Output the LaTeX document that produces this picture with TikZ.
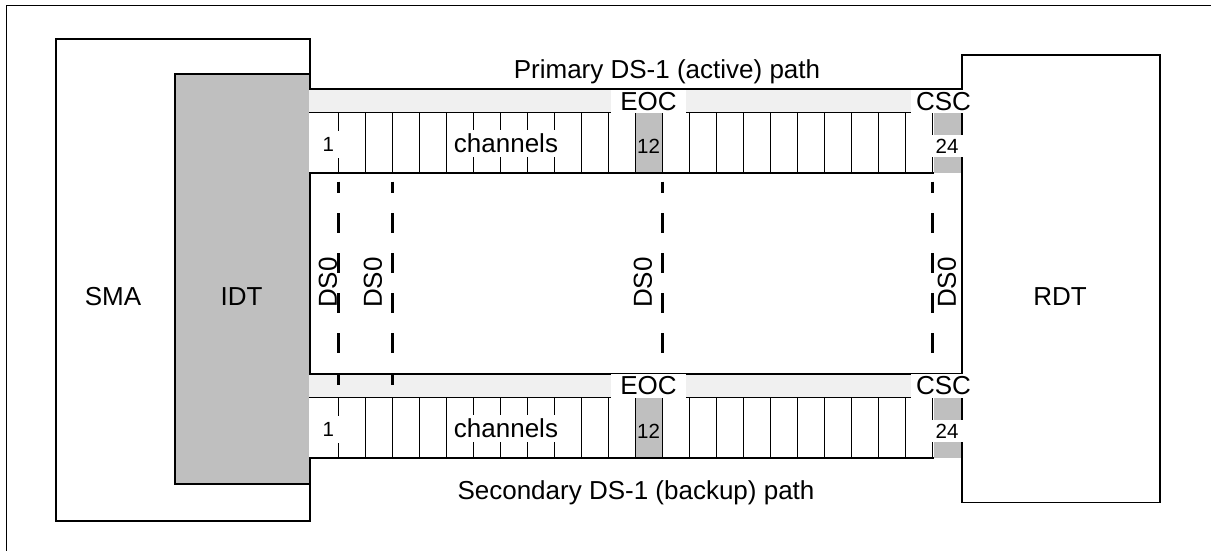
\documentclass[tikz,border=0pt]{standalone}
\usepackage{fontspec}
\setmainfont{Liberation Sans}
\definecolor{idtgray}{gray}{0.75}
\definecolor{bandgray}{gray}{0.94}
\begin{document}
\begin{tikzpicture}[x=1pt,y=-1pt,
  box/.style={draw, line width=1.5pt, inner sep=0pt, anchor=north west},
  lbl/.style={font=\fontsize{26}{30}\selectfont, inner sep=0pt},
  num/.style={font=\fontsize{20.5}{24}\selectfont, inner sep=0pt},
  wbox/.style={fill=white},
  bandline/.style={line width=1.5pt},
  cellline/.style={line width=1.5pt},
  dsline/.style={line width=2.5pt, dash pattern=on 20pt off 20pt, dash phase=8.3pt},
]
\useasboundingbox (0,0) rectangle (1211,550);
% outer frame
\draw[line width=1pt] (1212,5) -- (6,5) -- (6,551);
% SMA and IDT
\node[box, fill=white, minimum width=254pt, minimum height=482pt] (sma) at (55,38) {};
\node[box, fill=idtgray, minimum width=135pt, minimum height=410pt] (idt) at (174,73) {};
% bands
\foreach \oy in {0,285}{
  \fill[bandgray] (309,89+\oy) rectangle (961,112.5+\oy);
  \fill[white] (309,112.5+\oy) rectangle (961,173+\oy);
  \fill[idtgray] (635.5,112.5+\oy) rectangle (662.5,173+\oy);
  \fill[idtgray] (934,112.5+\oy) rectangle (961,173+\oy);
  \draw[bandline] (309,89+\oy) -- (961,89+\oy);
  \draw[bandline] (309,112.5+\oy) -- (961,112.5+\oy);
  \draw[bandline] (309,173+\oy) -- (934,173+\oy);
  \foreach \k in {0,...,22}{
    \draw[cellline] (338.5+27*\k,112.5+\oy) -- (338.5+27*\k,173+\oy);
  }
}
% RDT
\node[box, fill=white, minimum width=198pt, minimum height=447.5pt] (rdt) at (961,54) {};
% DS0 dashed lines
\foreach \x/\n in {338.5/a,392.5/b,662.5/c,932.5/d}{
  \coordinate (dstop\n) at (\x,181.7);
  \coordinate (dsbot\n) at (\x,385);
  \draw[dsline] (dstop\n) -- (dsbot\n);
}
% band labels
\node[lbl, wbox, inner sep=0pt, minimum width=75pt, minimum height=23.5pt] (eocp) at (648.5,101.5) {EOC};
\node[lbl, wbox, inner sep=0pt, minimum width=66pt, minimum height=23.5pt] (cscp) at (943.5,101.5) {CSC};
\node[lbl, wbox, inner sep=0pt, minimum width=75pt, minimum height=24.5pt] (eocs) at (648.5,385.75) {EOC};
\node[lbl, wbox, inner sep=0pt, minimum width=66pt, minimum height=24.5pt] (cscs) at (943.5,385.75) {CSC};
\foreach \oy/\t in {0/p,285/s}{
  \node[num, wbox, minimum width=24.5pt, minimum height=27pt] (one\t) at (328.25,144+\oy) {1};
  \node[lbl, wbox, minimum width=118pt, minimum height=27pt] (chan\t) at (506,143.5+\oy) {channels};
  \node[num] (twelve\t) at (648.5,146+\oy) {12};
  \node[num, wbox, minimum width=32pt, minimum height=22pt] (tf\t) at (947,146+\oy) {24};
}
% DS0 labels
\foreach \x/\n in {328/a,373/b,643/c,947/d}{
  \node[lbl, rotate=90] (dszero\n) at (\x,282.5) {DS0};
}
% main labels
\node[lbl] (smal) at (113,297) {SMA};
\node[lbl] (idtl) at (241.5,297) {IDT};
\node[lbl] (rdtl) at (1060,297) {RDT};
\node[lbl] (prim) at (667,72) {Primary DS-1 (active) path};
\node[lbl] (sec) at (636,493) {Secondary DS-1 (backup) path};
\end{tikzpicture}
\end{document}
